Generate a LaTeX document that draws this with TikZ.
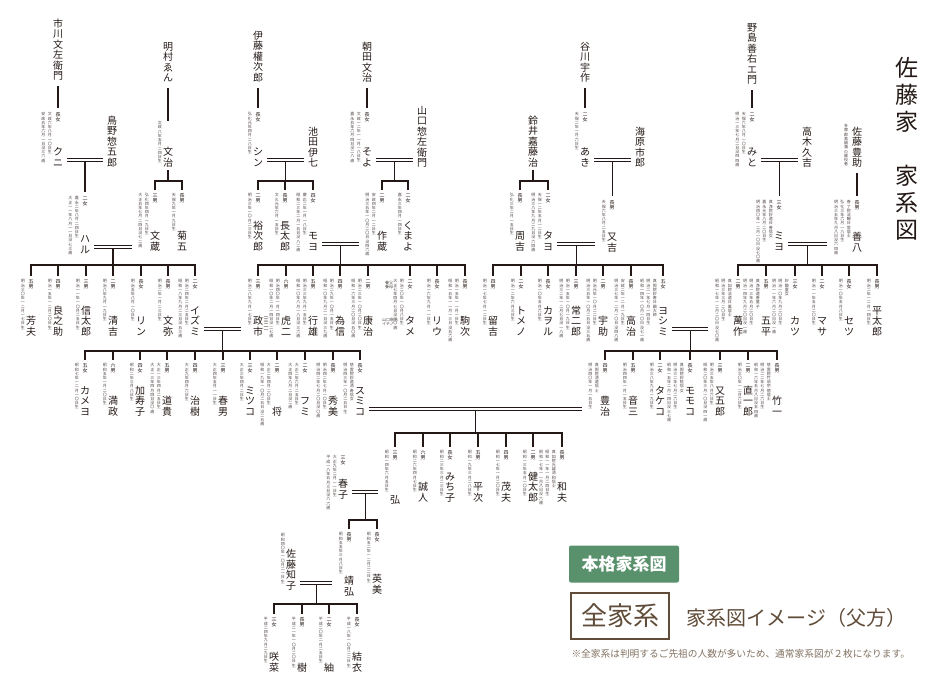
\documentclass[tikz,border=0pt]{standalone}
\usepackage{fontspec}
\setmainfont{Noto Sans CJK JP}
\usetikzlibrary{calc}
\definecolor{ink}{RGB}{35,24,21}
\definecolor{hkgreen}{RGB}{88,145,108}
\definecolor{hkbrown}{RGB}{96,76,56}

\makeatletter
\newcommand\tatepitch{1.05}
% vertical text: one character per row
\newcommand\tate[1]{\vtop{\offinterlineskip\halign{\hfil##\hfil\cr\tate@i#1\@nil}}}
\def\tate@i#1{\ifx#1\@nil\expandafter\@gobble\else\expandafter\@firstofone\fi
  {\rule[-.15em]{0pt}{\tatepitch em}#1\cr\tate@i}}
\makeatother
\newcommand\dt[1]{\hspace{2.4pt}\tate{#1}}

% person: id, x, label top, name bottom, label, name, date columns
\newcommand\person[7]{%
  \node[rel, anchor=north] (#1-l) at (#2,#3) {\tate{#5}};
  \node[born, anchor=north east] (#1-d) at ([xshift=-6pt]#1-l.north) {\hbox{#7}};
  \node[who, anchor=south] (#1) at (#2,#4) {\tate{#6}};
}
\newcommand\anc[4]{\node[who, anchor=north] (#1) at (#2,#3) {\tate{#4}};}
% marriage bar, names its middle
\newcommand\wed[3]{\draw[dbl] ([shift={(4pt,8pt)}]#1.south east)
  -- ([shift={(-4pt,8pt)}]#1.south east -| #2.west) coordinate[midway] (#3);}
% children under one bar
\newcommand\kids[3]{%
  \draw[link, shorten <=2pt] (#1) -- (#1 |- #2);
  \foreach \k in {#3}
    \draw[link, shorten <=3pt] (\k-l.north) -- (\k-l.north |- #2) -- (#1 |- #2);
}

\begin{document}
\begin{tikzpicture}[x=1pt, y=-1pt,
  link/.style={draw=ink, line width=1.2pt},
  dbl/.style={draw=ink, double=white, double distance=2.2pt, line width=1pt},
  who/.style={inner sep=0pt, text=ink, font=\fontsize{10}{10}\selectfont},
  rel/.style={inner sep=0pt, text=ink, font=\fontsize{5}{5}\selectfont},
  born/.style={inner sep=0pt, text=ink!80, font=\fontsize{4}{4}\selectfont},
]
\useasboundingbox (0,0) rectangle (940,693);

% title
\node[who, anchor=north, font=\fontsize{23}{23}\selectfont] (title) at (907,53)
  {\renewcommand\tatepitch{1.17}\tate{佐藤家　家系図}};

% ---- ancestors
\anc{ichikawa}{58}{18}{市川文左衛門}
\anc{torino}{112}{115}{鳥野惣五郎}
\anc{akemura}{168}{41}{明村ゑん}
\anc{ito}{258}{30}{伊藤權次郎}
\anc{ikeda}{313}{126}{池田伊七}
\anc{asada}{367}{41}{朝田文治}
\anc{yamaguchi}{422}{105}{山口惣左衛門}
\anc{suzui}{533}{115}{鈴井嘉藤治}
\anc{tanikawa}{585}{41}{谷川宇作}
\anc{unabara}{640}{126}{海原市郎}
\anc{nojima}{752}{22}{野島善右エ門}
\anc{takagi}{807}{126}{高木久吉}
\anc{toyosuke}{857}{126}{佐藤豊助}
\node[born, anchor=north] (toyosuke-n) at (846,124) {\tate{多摩郡高鍋藩の郷役者}};

% ---- daughters of the ancestors
\person{kuni}{58}{112}{168}{長女}{クニ}{\dt{安政五年六月一日没三六歳}\dt{文政六年八月一〇日生}}
\person{bunji}{168}{121}{168}{}{文治}{\dt{文政八年五月二四日生}}
\person{shin}{258}{112}{168}{長女}{シン}{\dt{弘化元年四月二八日生}}
\person{soyo}{367}{112}{168}{長女}{そよ}{\dt{嘉永五年六月四日没二八歳}\dt{文政一二年一一月一八日生}}
\person{aki}{585}{112}{168}{二女}{あき}{\dt{天保二年一月六日生}}
\person{mito}{752}{112}{168}{二女}{みと}{\dt{明治一三年七月二日没四四歳}\dt{天保六年八月一〇日生}}

\foreach \a/\b in {ichikawa/kuni, ito/shin, asada/soyo, tanikawa/aki, nojima/mito}
  \draw[link, shorten <=5pt, shorten >=4pt] (\a.south) -- (\b-l.north);
\draw[link, shorten <=5pt] (akemura.south) -- (bunji-l.north);
\wed{kuni}{torino}{m1}
\wed{shin}{ikeda}{m2}
\wed{soyo}{yamaguchi}{m3}
\wed{aki}{unabara}{m4}
\wed{mito}{takagi}{m5}

% ---- third row
\person{haru}{85}{196}{255}{二女}{ハル}{\dt{大正一一年八月一一日没七三歳}\dt{嘉永二年八月二四日生}}
\person{bunzo}{155}{193}{252}{三男}{文蔵}{\dt{大正五年七月二四日没七二歳}\dt{弘化四年四月一九日生}}
\person{kikugo}{182}{193}{252}{長男}{菊五}{\dt{天保九年一月九日生}}
\person{yujiro}{258}{193}{252}{二男}{裕次郎}{\dt{明治三年一〇月二三日生}}
\person{chotaro}{285}{193}{252}{長男}{長太郎}{\dt{文久元年六月一五日生}}
\person{moyo}{313}{193}{252}{四女}{モヨ}{\dt{昭和二三年二月一五日没八二歳}\dt{慶応二年一月一八日生}}
\person{sakuzo}{382}{193}{252}{二男}{作蔵}{\dt{明治三五年一〇月二〇日没四六歳}\dt{安政四年二月一二日生}}
\person{kumayo}{408}{193}{252}{二女}{くまよ}{\dt{嘉永三年四月一四日生}}
\person{shukichi}{520}{193}{252}{長男}{周吉}{\dt{弘化三年二月一五日生}}
\person{tayo}{548}{193}{252}{二女}{タヨ}{\dt{明治三八年九月二九日没六四歳}\dt{天保一二年五月一二日生}}
\person{matakichi}{612}{200}{253}{長男}{又吉}{\dt{天保六年八月二五日生}}
\person{miyo}{779}{200}{252}{三女}{ミヨ}{\dt{明治四〇年一二月一〇日没七〇歳}\dt{嘉永元年八月二〇日生}\dt{真浄院妙道日善信女}}
\person{zenpachi}{857}{200}{253}{長男}{善八}{\dt{明治三五年九月八日没六四歳}\dt{弘化三年六月一八日生}\dt{善了院法観日常居士}}

\coordinate (b1) at (0,181);
\draw[link, shorten <=2pt, shorten >=4pt] (m1) -- (m1 |- haru-l.north);
\kids{bunji.south}{b1}{bunzo,kikugo}
\kids{m2}{b1}{yujiro,chotaro,moyo}
\kids{m3}{b1}{sakuzo,kumayo}
\kids{suzui.south}{b1}{shukichi,tayo}
\draw[link, shorten <=2pt, shorten >=4pt] (m4) -- (m4 |- matakichi-l.north);
\draw[link, shorten <=2pt, shorten >=4pt] (m5) -- (m5 |- miyo-l.north);
\draw[link, shorten <=5pt, shorten >=4pt] (toyosuke.south) -- (zenpachi-l.north);
\wed{haru}{bunzo-d}{m6}
\wed{moyo}{sakuzo-d}{m7}
\wed{tayo}{matakichi-d}{m8}
\wed{miyo}{zenpachi-d}{m9}

% ---- fourth row
\person{yoshio}{31}{279}{337}{五男}{芳夫}{\dt{明治三〇年一二月一七日生}}
\person{ryonosuke}{58}{279}{337}{四男}{良之助}{\dt{明治一五年一二月二〇日生}}
\person{shintaro}{86}{279}{337}{三男}{信太郎}{\dt{明治一一年一〇月二五日生}}
\person{seikichi}{113}{279}{337}{二男}{清吉}{\dt{明治八年九月一九日生}}
\person{rin}{141}{279}{337}{長女}{リン}{\dt{明治五年八月一〇日生}}
\person{bunya}{168}{279}{337}{長男}{文弥}{\dt{明治二年一月二三日生}}
\person{izumi}{195}{279}{337}{二女}{イズミ}{\dt{昭和一八年九月二三日没五三歳}\dt{明治二四年二月二五日生}}
\person{masaichi}{258}{279}{337}{三男}{政市}{\dt{明治二八年九月一七日生}}
\node[rel, anchor=south] (masaichi-n) at (266,334) {\tate{︵三二︶}};
\person{toraji}{286}{279}{337}{六男}{虎二}{\dt{昭和一〇年二月一四日没二七歳}\dt{明治四〇年一月一四日生}}
\person{yukio}{313}{279}{337}{五男}{行雄}{\dt{昭和一〇年八月一八日没三六歳}\dt{明治三三年九月一五日生}}
\person{tamenobu}{340}{279}{337}{四男}{為信}{\dt{昭和一〇年九月二一日没三九歳}\dt{明治二九年一〇月一五日生}}
\person{yasuji}{368}{279}{337}{二男}{康治}{\dt{昭和一六年三月二〇日没五〇歳}\dt{明治二三年一〇月二〇日生}}
\person{tame}{410}{279}{337}{二女}{タメ}{\dt{大正七年四月七日没三〇歳}\dt{明治二〇年一〇月八日生}}
\node[born, anchor=north, align=left] (tame-f) at (389,281) {養父\\養母};
\node[born, anchor=north, align=left] (tame-p) at (390,318) {山口駒吉\\イチノ};
\person{riu}{437}{279}{337}{長女}{リウ}{\dt{明治一六年九月一一日生}}
\person{komaji}{465}{279}{337}{長男}{駒次}{\dt{昭和一五年一一月一三日没五六歳}\dt{明治一五年一一月一日生}}
\person{tomekichi}{493}{279}{337}{四男}{留吉}{\dt{明治一七年七月一二日生}}
\person{tomeno}{521}{279}{337}{二女}{トメノ}{\dt{明治一二年六月三日生}}
\person{kaworu}{548}{279}{337}{長女}{カヲル}{\dt{明治一〇年五月六日生}}
\person{tsunejiro}{576}{279}{337}{三男}{常二郎}{\dt{明治三二年一二月七日没一八歳}\dt{明治一五年一〇月一九日生}}
\person{usuke}{603}{279}{337}{二男}{宇助}{\dt{明治三五年一〇月二五日没三五歳}\dt{明治元年一〇月二二日生}}
\person{takaji}{631}{279}{337}{長男}{高治}{\dt{明治三七年一二月一〇日没四八歳}\dt{安政二年一二月一九日生}}
\person{yoshimi}{663}{279}{337}{五女}{ヨシミ}{\dt{昭和一四年一〇月一〇日没七一歳}\dt{明治二一年七月一四日生}\dt{真照院妙寿日顕大姉}}
\person{manzaku}{738}{279}{337}{二男}{萬作}{\dt{昭和一七年一二月二〇日没七〇歳}\dt{明治三年三月二〇日生}\dt{真如院法道日萬居士}}
\person{gohei}{766}{279}{337}{五男}{五平}{\dt{明治一四年九月二〇日没一歳}\dt{明治一三年五月二〇日生}\dt{真浄院道善童子}}
\person{katsu}{795}{279}{337}{三女}{カツ}{\dt{明治一一年六月二〇日没一歳}\dt{明治一〇年九月二〇日生}\dt{妙鏡童女}}
\person{masa}{822}{279}{337}{二女}{マサ}{\dt{明治一一年五月二〇日生}}
\person{setsu}{849}{279}{337}{長女}{セツ}{\dt{明治一〇年五月八日生}}
\person{heitaro}{877}{279}{337}{長男}{平太郎}{\dt{明治二年一二月一四日生}}

\coordinate (b2) at (0,265);
\kids{m6}{b2}{yoshio,ryonosuke,shintaro,seikichi,rin,bunya,izumi}
\kids{m7}{b2}{masaichi,toraji,yukio,tamenobu,yasuji,tame,riu,komaji}
\kids{m8}{b2}{tomekichi,tomeno,kaworu,tsunejiro,usuke,takaji,yoshimi}
\kids{m9}{b2}{manzaku,gohei,katsu,masa,setsu,heitaro}
\wed{izumi}{masaichi-d}{m10}
\wed{yoshimi}{manzaku-d}{m11}

% ---- fifth row
\person{kameyo}{85}{363}{417}{五女}{カメヨ}{\dt{昭和七年一二月一〇日生}}
\person{mitsumasa}{113}{363}{417}{六男}{満政}{\dt{昭和五年一月二〇日生}}
\person{kazuko}{140}{363}{417}{四女}{加寿子}{\dt{昭和二年三月八日生}}
\person{michitaka}{167}{363}{417}{五男}{道貴}{\dt{大正一三年四月四日没〇歳}\dt{大正一三年四月二五日生}}
\person{haruki}{195}{363}{417}{四男}{治樹}{\dt{大正九年四月六日生}}
\person{haruo}{223}{363}{417}{三男}{春男}{\dt{大正四年五月一一日生}}
\person{mitsuko}{250}{363}{417}{三女}{ミツコ}{\dt{大正三年四月二日生}}
\person{sho}{277}{363}{417}{二男}{将}{\dt{昭和一九年一〇月二五日没二五歳}\dt{大正二年四月二〇日生}}
\person{fumi}{305}{363}{417}{二女}{フミ}{\dt{大正四年八月二日没二歳}\dt{大正二年六月二五日生}}
\person{hideyoshi}{333}{363}{417}{長男}{秀美}{\dt{明治四二年七月二〇日没〇歳}\dt{明治四二年七月一〇日生}}
\person{sumiko}{360}{363}{417}{長女}{スミコ}{\dt{明治四三年一〇月二五日生}\dt{慈雲院妙道清寿信女}}
\person{toyoji}{605}{363}{417}{四男}{豊治}{\dt{明治四〇年一月一五日生}\dt{真照院清道信士}}
\person{otozo}{633}{363}{417}{五男}{音三}{\dt{明治四四年一月一五日生}}
\person{takeko}{660}{363}{417}{二女}{タケコ}{\dt{明治三八年九月一九日生}}
\person{momoko}{690}{363}{417}{長女}{モモコ}{\dt{昭和一五年二月一四日没三七歳}\dt{明治三二年七月二六日生}\dt{真照院妙桃信女}}
\person{matagoro}{720}{363}{417}{三男}{又五郎}{\dt{昭和二〇年三月一〇日没四一歳}\dt{明治三五年八月六日生}}
\person{naoichiro}{748}{363}{417}{二男}{直一郎}{\dt{明治三〇年一二月六日生}}
\person{takeichi}{777}{363}{417}{長男}{竹一}{\dt{昭和一六年五月八日没五四歳}\dt{明治二二年七月二六日生}\dt{慈雲院竹翁宗徳居士}}

\coordinate (b3) at (0,351);
\kids{m10}{b3}{kameyo,mitsumasa,kazuko,michitaka,haruki,haruo,mitsuko,sho,fumi,hideyoshi,sumiko}
\kids{m11}{b3}{toyoji,otozo,takeko,momoko,matagoro,naoichiro,takeichi}
\wed{sumiko}{toyoji-d}{m12}

% ---- sixth row
\person{hiroshi}{395}{450}{505}{三男}{弘}{\dt{昭和一四年六月五日生}}
\person{makoto}{423}{450}{503}{六男}{誠人}{\dt{昭和二六年四月七日生}}
\person{michiko}{450}{450}{503}{長女}{みち子}{\dt{昭和二三年三月二三日生}}
\person{heiji}{478}{450}{503}{五男}{平次}{\dt{昭和一九年三月二八日生}}
\person{shigeo}{506}{450}{503}{四男}{茂夫}{\dt{昭和一七年一月二〇日生}}
\person{kentaro}{533}{450}{503}{二男}{健太郎}{\dt{昭和一三年五月一〇日生}}
\person{kazuo}{562}{450}{503}{長男}{和夫}{\dt{昭和一七年一一月八日没六歳}\dt{昭和一一年一月二四日生}\dt{真如院光誠清和信士}}
\person{haruko}{343}{455}{500}{三女}{春子}{\dt{平成一八年五月三日没八六歳}\dt{大正九年二月一一日生}}

\coordinate (b4) at (0,433);
\kids{m12}{b4}{hiroshi,makoto,michiko,heiji,shigeo,kentaro,kazuo}
\wed{haruko}{hiroshi-d}{m13}

% ---- seventh row
\person{tomoko}{291}{533}{591}{}{佐藤知子}{\dt{昭和四〇年一〇月二一日生}}
\person{yasuhiro}{349}{532}{597}{長男}{靖弘}{\dt{昭和五五年三月八日生}}
\person{hidemi}{377}{532}{595}{長女}{英美}{\dt{昭和五二年一二月二二日生}}
\coordinate (b5) at (0,520);
\kids{m13}{b5}{yasuhiro,hidemi}
\wed{tomoko}{yasuhiro-d}{m14}

% ---- eighth row
\person{sakina}{274}{617}{673}{三女}{咲菜}{\dt{平成二四年九月二九日生}}
\person{itsuki}{302}{617}{673}{長男}{樹}{\dt{平成二一年一〇月二〇日生}}
\person{tsumugi}{329}{617}{673}{二女}{紬}{\dt{平成二〇年二月二五日生}}
\person{yui}{357}{617}{673}{長女}{結衣}{\dt{平成一八年一〇月二二日生}}
\coordinate (b6) at (0,604);
\kids{m14}{b6}{sakina,itsuki,tsumugi,yui}

% ---- legend
\node[fill=hkgreen, rounded corners=2pt, minimum width=110pt, minimum height=37pt,
  text=white, font=\bfseries\fontsize{17}{17}\selectfont] (badge) at (624,564) {本格家系図};
\node[draw=hkbrown, line width=1.3pt, minimum width=98pt, minimum height=46pt,
  text=hkbrown, font=\fontsize{26}{26}\selectfont] (zen) at (620,616) {全家系};
\node[anchor=west, text=hkbrown, font=\fontsize{20}{20}\selectfont] (kind) at (683,618)
  {家系図イメージ（父方）};
\node[anchor=west, text=hkbrown!80, font=\fontsize{9.7}{9.7}\selectfont] (note) at (568,654)
  {※全家系は判明するご先祖の人数が多いため、通常家系図が２枚になります。};
\end{tikzpicture}
\end{document}
